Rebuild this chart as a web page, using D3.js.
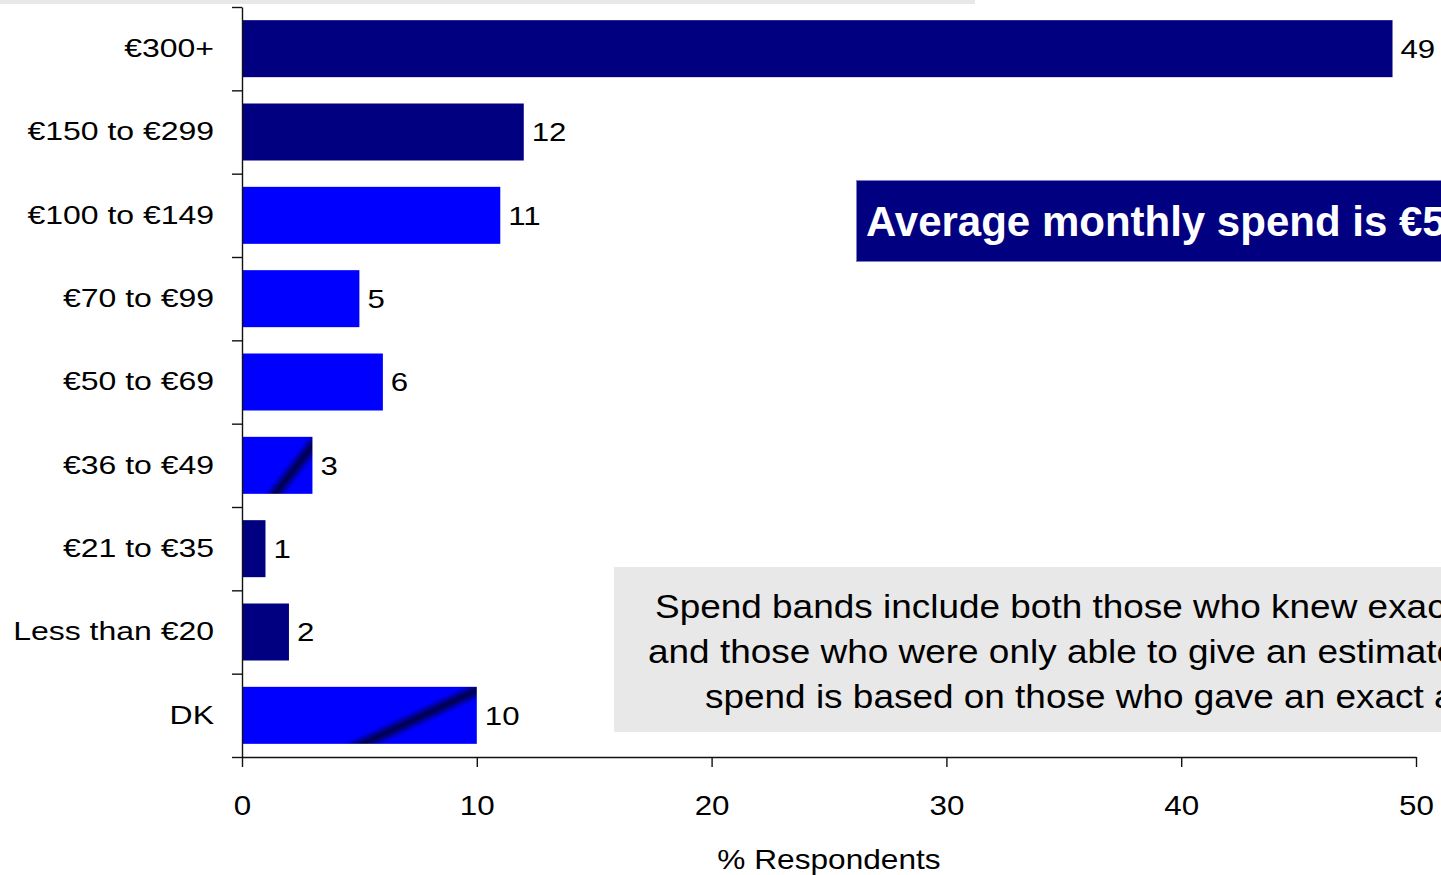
<!DOCTYPE html>
<html>
<head>
<meta charset="utf-8">
<script src="https://cdn.jsdelivr.net/npm/d3@7"></script>
<style>
  html, body { margin: 0; padding: 0; background: #fff; overflow: hidden; }
  svg { display: block; font-family: "Liberation Sans", Arial, sans-serif; }
</style>
</head>
<body>
<svg id="chart" width="1441" height="875"></svg>
<script>
// Monthly spend bands and share of respondents (%)
const categories = ["€300+", "€150 to €299", "€100 to €149", "€70 to €99", "€50 to €69",
                    "€36 to €49", "€21 to €35", "Less than €20", "DK"];
const values = [49, 12, 11, 5, 6, 3, 1, 2, 10];
const xTicks = [0, 10, 20, 30, 40, 50];
const xTitle = "% Respondents";
const headline = "Average monthly spend is €5";
const noteLines = [
  "Spend bands include both those who knew exactly how much they spend",
  "and those who were only able to give an estimate. Average",
  "spend is based on those who gave an exact amount"
];

// Fill colour for each band
const NAVY = "#000080", BLUE = "#0000ff";
const barFill = {
  "€300+": NAVY, "€150 to €299": NAVY, "€100 to €149": BLUE, "€70 to €99": BLUE,
  "€50 to €69": BLUE, "€36 to €49": BLUE, "€21 to €35": NAVY, "Less than €20": NAVY, "DK": BLUE
};
// Bars with a dark diagonal sheen: where the streak meets the bottom and top edges (fraction of bar width)
const sheen = {
  "€36 to €49": { bottom: 0.47, top: 1.10 },
  "DK": { bottom: 0.515, top: 1.03 }
};

// Widen text horizontally around its own anchor x
function widen(sel, s) {
  sel.each(function () {
    const el = d3.select(this);
    const ax = +(el.attr("x") || 0);
    el.attr("transform", `translate(${ax * (1 - s)},0) scale(${s},1)`);
  });
}

const svg = d3.select("#chart");
const defs = svg.append("defs");

const x = d3.scaleLinear().domain([0, 50]).range([242, 1416]);
const y = d3.scaleBand().domain(categories).range([7, 757]).paddingInner(0.316).paddingOuter(0.158);
const yEdges = d3.scaleLinear().domain([0, categories.length]).range([7, 757]);

// light strip along the top edge
svg.append("rect").attr("x", 0).attr("y", 0).attr("width", 975).attr("height", 4).attr("fill", "#e8e8e8");

// note box
const note = svg.append("g");
note.append("rect").attr("x", 614).attr("y", 567).attr("width", 900).attr("height", 165).attr("fill", "#e8e8e8");
const noteX = [655, 648, 705];
note.selectAll("text").data(noteLines).join("text")
  .attr("x", (d, i) => noteX[i])
  .attr("y", (d, i) => 618 + i * 45)
  .attr("font-size", 33)
  .attr("fill", "#000")
  .text(d => d)
  .call(widen, 1.12);

// headline box
const head = svg.append("g");
head.append("rect").attr("x", 856.5).attr("y", 180.5).attr("width", 700).attr("height", 81)
  .attr("fill", NAVY).attr("stroke", "#7f7fbf").attr("stroke-width", 1);
head.append("text").attr("x", 866).attr("y", 236).attr("font-size", 42).attr("font-weight", "bold")
  .attr("fill", "#fff").text(headline);

// sheen gradients, laid out in user space along each bar's streak
categories.forEach((c, i) => {
  const s = sheen[c];
  if (!s) return;
  const x0 = x(0), w = x(values[i]) - x0;
  const yb = y(c) + y.bandwidth(), yt = y(c);
  const bx = x0 + s.bottom * w, tx = x0 + s.top * w;
  const dx = tx - bx, dy = yt - yb;
  const len = Math.hypot(dx, dy);
  const nx = dy / len, ny = -dx / len;
  const half = 9;
  const g = defs.append("linearGradient").attr("id", "sheen" + i)
    .attr("gradientUnits", "userSpaceOnUse")
    .attr("x1", bx - nx * half).attr("y1", yb - ny * half)
    .attr("x2", bx + nx * half).attr("y2", yb + ny * half);
  g.append("stop").attr("offset", 0).attr("stop-color", BLUE);
  g.append("stop").attr("offset", 0.5).attr("stop-color", "#000045");
  g.append("stop").attr("offset", 1).attr("stop-color", BLUE);
});

// bars
svg.append("g").selectAll("rect").data(categories).join("rect")
  .attr("x", x(0))
  .attr("y", d => y(d))
  .attr("width", (d, i) => x(values[i]) - x(0))
  .attr("height", y.bandwidth())
  .attr("fill", (d, i) => sheen[d] ? `url(#sheen${i})` : barFill[d]);

// value labels
svg.append("g").selectAll("text").data(categories).join("text")
  .attr("x", (d, i) => x(values[i]) + 8)
  .attr("y", d => y(d) + y.bandwidth() / 2)
  .attr("dy", "0.36em")
  .attr("font-size", 26)
  .attr("fill", "#000")
  .text((d, i) => values[i])
  .call(widen, 1.2);

// category labels
const yAxis = svg.append("g").attr("transform", `translate(${x(0)},0)`)
  .call(d3.axisLeft(y).tickSize(0).tickPadding(28));
yAxis.select(".domain").remove();
yAxis.selectAll("text").attr("font-size", 26).attr("fill", "#000")
  .attr("font-family", "Liberation Sans, Arial, sans-serif")
  .call(widen, 1.23);

// band boundary ticks and vertical axis line
const edgeAxis = svg.append("g").attr("transform", `translate(${x(0)},0)`)
  .call(d3.axisLeft(yEdges).tickValues(d3.range(categories.length + 1)).tickFormat("").tickSize(10).tickSizeOuter(0));
edgeAxis.selectAll("path, line").attr("stroke", "#111").attr("stroke-width", 1.4);

// horizontal axis
const xAxis = svg.append("g").attr("transform", `translate(0,${yEdges.range()[1]})`)
  .call(d3.axisBottom(x).tickValues(xTicks).tickFormat(d3.format("d")).tickSize(10).tickSizeOuter(0).tickPadding(28));
xAxis.selectAll("path, line").attr("stroke", "#111").attr("stroke-width", 1.4);
xAxis.selectAll("text").attr("font-size", 28).attr("fill", "#000")
  .attr("font-family", "Liberation Sans, Arial, sans-serif")
  .call(widen, 1.12);

// axis title
svg.append("text").attr("x", (x(0) + x(50)) / 2).attr("y", 869).attr("text-anchor", "middle")
  .attr("font-size", 28).attr("fill", "#000").text(xTitle)
  .call(widen, 1.13);
</script>
</body>
</html>
